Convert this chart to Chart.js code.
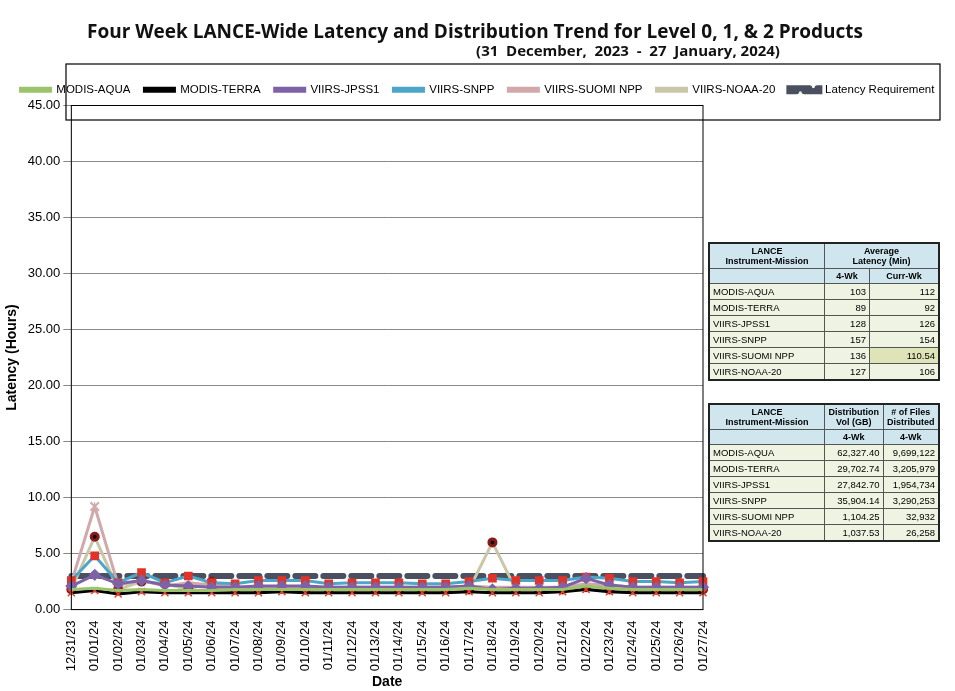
<!DOCTYPE html>
<html><head><meta charset="utf-8">
<script src="https://cdn.jsdelivr.net/npm/chart.js@4"></script>
<style>
body{margin:0;background:#fff;font-family:Calibri,"Liberation Sans",Arial,sans-serif;}
#wrap{position:relative;width:955px;height:691px;}
table{position:absolute;border-collapse:collapse;font-size:9.5px;font-family:"Liberation Sans Narrow","Liberation Sans",Arial,sans-serif;border:2px solid #222;}
td{border:1px solid #555;padding:1px 3px;height:13px;background:#eef3e2;}
td.n{text-align:right}
th{background:#cfe6ee;border:1px solid #555;font-weight:bold;font-size:9px;padding:2px;}
</style></head><body>
<div id="wrap"><canvas id="c" width="955" height="691"></canvas>
<table style="left:708px;top:242px;width:232px">
<tr><th style="width:110px">LANCE<br>Instrument-Mission</th><th colspan="2">Average<br>Latency (Min)</th></tr>
<tr><th></th><th>4-Wk</th><th>Curr-Wk</th></tr>
<tbody id="t1"></tbody></table>
<table style="left:708px;top:403px;width:232px">
<tr><th style="width:110px">LANCE<br>Instrument-Mission</th><th>Distribution<br>Vol (GB)</th><th># of Files<br>Distributed</th></tr>
<tr><th></th><th>4-Wk</th><th>4-Wk</th></tr>
<tbody id="t2"></tbody></table>
</div>
<script>
const dates=["12/31/23","01/01/24","01/02/24","01/03/24","01/04/24","01/05/24","01/06/24","01/07/24","01/08/24","01/09/24","01/10/24","01/11/24","01/12/24","01/13/24","01/14/24","01/15/24","01/16/24","01/17/24","01/18/24","01/19/24","01/20/24","01/21/24","01/22/24","01/23/24","01/24/24","01/25/24","01/26/24","01/27/24"];
const modisAqua=[1.8,1.9,1.7,1.8,1.7,1.7,1.7,1.8,1.8,1.8,1.8,1.8,1.8,1.8,1.8,1.8,1.8,1.9,1.8,1.8,1.8,1.8,2.1,1.9,1.8,1.8,1.8,1.8];
const modisTerra=[1.5,1.7,1.4,1.6,1.5,1.5,1.5,1.5,1.5,1.6,1.5,1.5,1.5,1.5,1.5,1.5,1.5,1.6,1.5,1.5,1.5,1.6,1.8,1.6,1.5,1.5,1.5,1.5];
const viirsJpss1=[2.1,3.1,2.3,2.6,2.2,2.1,2.0,2.0,2.1,2.1,2.1,2.0,2.0,2.0,2.0,2.0,2.0,2.1,1.8,1.9,1.9,2.0,2.8,2.2,2.0,2.0,2.0,2.0];
const viirsSnpp=[2.6,4.8,2.4,3.3,2.4,3.0,2.4,2.3,2.6,2.6,2.6,2.3,2.4,2.4,2.4,2.3,2.3,2.5,2.8,2.6,2.6,2.6,2.9,2.8,2.5,2.5,2.4,2.5];
const viirsSuomiNpp=[2.4,9.2,2.2,2.6,2.1,2.4,2.2,2.0,2.0,2.0,2.0,2.0,2.0,2.0,2.0,2.0,2.0,2.1,2.0,2.0,2.0,2.0,2.3,2.2,2.0,2.0,2.0,2.0];
const viirsNoaa20=[1.8,6.5,1.8,2.5,2.3,1.8,2.5,1.8,1.8,1.9,1.8,1.8,1.9,1.8,1.8,1.8,1.8,1.8,6.0,1.8,1.8,1.8,2.0,1.8,1.8,1.8,1.8,1.8];
const latencyReq=dates.map(()=>3.0);
const missions=["MODIS-AQUA","MODIS-TERRA","VIIRS-JPSS1","VIIRS-SNPP","VIIRS-SUOMI NPP","VIIRS-NOAA-20"];
const lat4wk=["103","89","128","157","136","127"];
const latCurr=["112","92","126","154","110.54","106"];
const distVol=["62,327.40","29,702.74","27,842.70","35,904.14","1,104.25","1,037.53"];
const files=["9,699,122","3,205,979","1,954,734","3,290,253","32,932","26,258"];
document.getElementById('t1').innerHTML=missions.map((m,i)=>`<tr><td>${m}</td><td class="n">${lat4wk[i]}</td><td class="n"${i==4?' style="background:#dfe3b8"':''}>${latCurr[i]}</td></tr>`).join('');
document.getElementById('t2').innerHTML=missions.map((m,i)=>`<tr><td>${m}</td><td class="n">${distVol[i]}</td><td class="n">${files[i]}</td></tr>`).join('');

const ds=(label,data,color,pt,pc,pr,bw)=>({label,data,borderColor:color,backgroundColor:color,pointBorderColor:pc,pointBackgroundColor:pc,pointStyle:pt,pointRadius:pr,borderWidth:bw||3,tension:0});
const sets=[
 ds("MODIS-AQUA",modisAqua,"#9bc36b","circle","#9bc36b",0),
 ds("MODIS-TERRA",modisTerra,"#000000","crossRot","#e8412c",5,3),
 ds("VIIRS-JPSS1",viirsJpss1,"#7d62a6","rectRot","#7d62a6",4),
 ds("VIIRS-SNPP",viirsSnpp,"#4ba6c8","rect","#e0342a",4),
 ds("VIIRS-SUOMI NPP",viirsSuomiNpp,"#d2a9aa","crossRot","#d2a9aa",0),
 ds("VIIRS-NOAA-20",viirsNoaa20,"#c8c7a8","circle","#111",3.5),
 Object.assign(ds("Latency Requirement",latencyReq,"#4a5060","line","#4a5060",0,6),{borderDash:[20,8],borderCapStyle:'round'})
];
sets[1].pointBorderWidth=1.5;sets[4].pointRadius=(c)=>c.dataIndex==1?6:0;sets[4].pointBorderWidth=2;
sets[5].pointBorderColor="#8b1a1a";
const boxPlug={id:'box',afterDraw(ch){const x=ch.ctx,a=ch.chartArea;x.save();x.strokeStyle='#000';x.lineWidth=1.2;x.strokeRect(66,64,874,56);x.lineWidth=1;x.strokeRect(a.left,a.top,a.right-a.left,a.bottom-a.top);
x.fillStyle='#111';x.textAlign='center';x.textBaseline='alphabetic';x.font='bold 19px "Open Sans",sans-serif';x.fillText("Four Week LANCE-Wide Latency and Distribution Trend for Level 0, 1, & 2 Products",475,38);
x.font='bold 15px "Open Sans",sans-serif';x.fillText("(31  December,  2023  -  27  January, 2024)",628,56);x.restore();}};
new Chart(document.getElementById('c'),{type:'line',data:{labels:dates,datasets:sets},plugins:[boxPlug],
options:{responsive:false,animation:false,layout:{padding:{left:0,top:70,right:0}},
plugins:{legend:{position:'top',align:'center',labels:{boxWidth:30,boxHeight:3,font:{size:11.5,family:'"Liberation Sans Narrow","Liberation Sans",sans-serif'},color:'#000',padding:14},maxWidth:2000},
tooltip:{enabled:false}},
scales:{x:{grid:{display:false},ticks:{maxRotation:90,minRotation:90,color:'#000',font:{size:13}},title:{display:true,text:'Date',font:{size:14,weight:'bold'},color:'#000',padding:0}},
y:{min:0,max:45,ticks:{stepSize:5,callback:v=>v.toFixed(2),color:'#000',font:{size:13}},grid:{color:'#888'},title:{display:true,text:'Latency (Hours)',font:{size:14,weight:'bold'},color:'#000'}},
yPad:{position:'right',display:true,grid:{display:false},border:{display:false},ticks:{display:false},afterFit:s=>{s.width=252;}}}}});
</script></body></html>
